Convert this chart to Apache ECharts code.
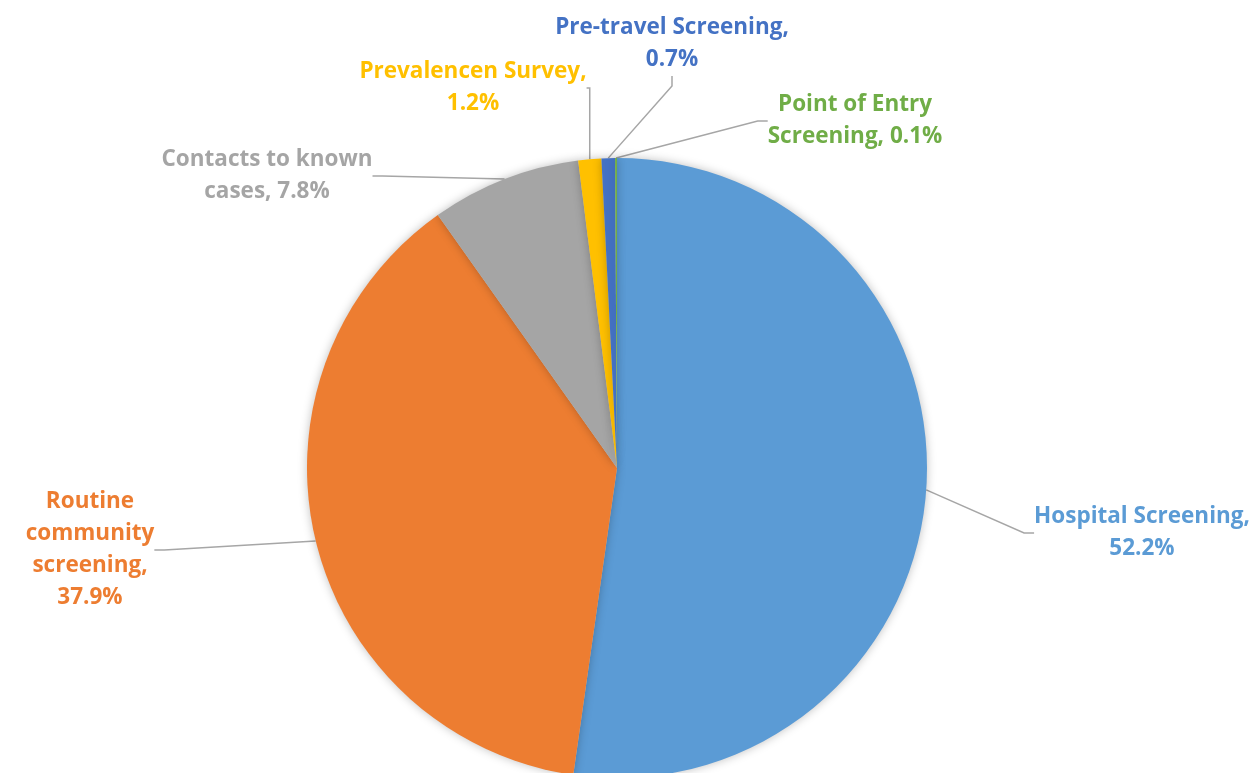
<!DOCTYPE html>
<html>
<head>
<meta charset="utf-8">
<script src="https://cdn.jsdelivr.net/npm/echarts@6/dist/echarts.min.js"></script>
<style>
html,body{margin:0;padding:0;background:#fff;}
#chart{width:1254px;height:773px;}
</style>
</head>
<body>
<div id="chart"></div>
<script>
// Data
const categories = ['Hospital Screening', 'Routine community screening', 'Contacts to known cases', 'Prevalencen Survey', 'Pre-travel Screening', 'Point of Entry Screening'];
const values = [52.2, 37.9, 7.8, 1.2, 0.7, 0.1];
// Label text wrapping as in the reference
const labelTexts = [
  'Hospital Screening,\n52.2%',
  'Routine\ncommunity\nscreening,\n37.9%',
  'Contacts to known\ncases, 7.8%',
  'Prevalencen Survey,\n1.2%',
  'Pre-travel Screening,\n0.7%',
  'Point of Entry\nScreening, 0.1%'
];
const colors = ['#5B9BD5', '#ED7D31', '#A5A5A5', '#FFC000', '#4472C4', '#70AD47'];
// Label block centers (layout)
const labelPos = [[1142, 533], [90, 550], [267, 176], [473, 88], [672, 44], [855, 121]];

const chart = echarts.init(document.getElementById('chart'), null, {renderer: 'canvas'});
chart.setOption({
  backgroundColor: '#ffffff',
  animation: false,
  series: [{
    type: 'pie',
    center: [617, 468],
    radius: 310,
    startAngle: 90,
    clockwise: true,
    avoidLabelOverlap: false,
    data: categories.map((c, i) => ({
      name: c,
      value: values[i],
      itemStyle: {color: colors[i]},
      label: {color: colors[i]}
    })),
    itemStyle: {
      borderWidth: 0,
      shadowBlur: 10,
      shadowColor: 'rgba(0,0,0,0.25)'
    },
    label: {
      show: true,
      position: 'outside',
      formatter: p => labelTexts[p.dataIndex],
      fontFamily: 'Open Sans',
      fontWeight: 'bold',
      fontSize: 22.5,
      lineHeight: 32,
      align: 'center'
    },
    labelLine: {
      show: true,
      length: 20,
      length2: 10,
      lineStyle: {color: '#A6A6A6', width: 1.5}
    },
    labelLayout: function (params) {
      const p = labelPos[params.dataIndex];
      return {x: p[0], y: p[1], align: 'center', verticalAlign: 'middle'};
    },
    emphasis: {disabled: true}
  }]
});
</script>
</body>
</html>
